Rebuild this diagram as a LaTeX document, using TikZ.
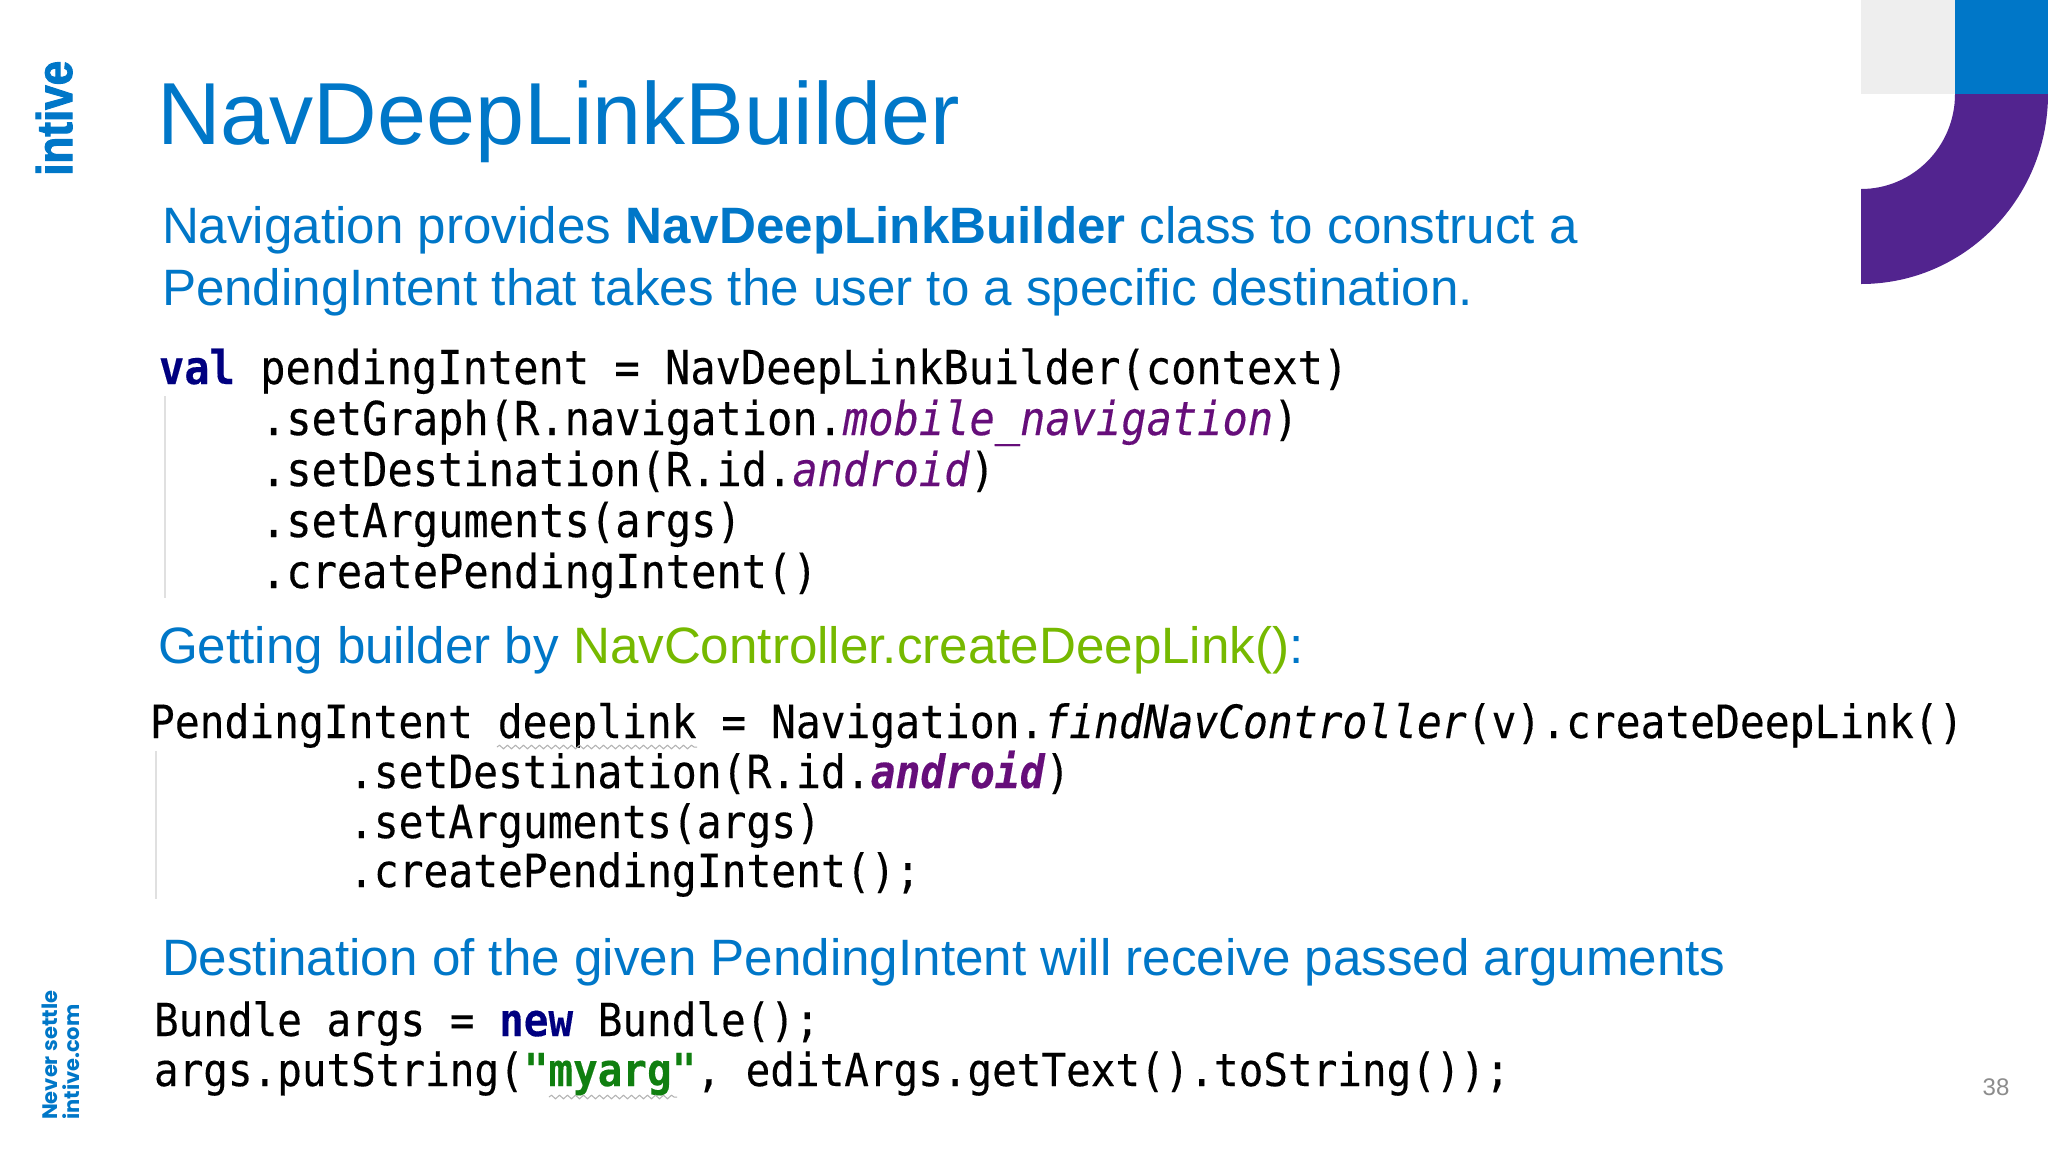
\documentclass[tikz,border=0pt]{standalone}
\usepackage{fontspec}
\setmainfont{Liberation Sans}
\setmonofont[FakeStretch=0.9,FakeBold=0.25]{DejaVu Sans Mono}
\newfontfamily\popfont{Poppins}
\newfontfamily\logofont[FakeStretch=0.88,FakeBold=2]{Liberation Sans Bold}
\usetikzlibrary{decorations.pathmorphing}
\definecolor{ibl}{HTML}{0077C8}
\definecolor{ipu}{HTML}{52248F}
\definecolor{igy}{HTML}{EEEEEE}
\definecolor{igr}{HTML}{76B900}
\definecolor{cnavy}{HTML}{000080}
\definecolor{cpur}{HTML}{660E7A}
\definecolor{cgrn}{HTML}{107F10}
\newcommand{\fs}[1]{\fontsize{#1pt}{#1pt}\selectfont}
\tikzset{
  txt/.style={anchor=base west,inner sep=0pt,outer sep=0pt,text=ibl},
  codeA/.style={anchor=base west,inner sep=0pt,outer sep=0pt,text=black,font=\ttfamily\fs{46.7}},
  codeB/.style={anchor=base west,inner sep=0pt,outer sep=0pt,text=black,font=\ttfamily\fs{45.85}},
  codeC/.style={anchor=base west,inner sep=0pt,outer sep=0pt,text=black,font=\ttfamily\fs{45.5}},
  gutter/.style={draw=black!12,line width=1.2pt},
  squig/.style={line width=1pt,decorate,decoration={snake,amplitude=1.8pt,segment length=8pt}},
}
\begin{document}
\begin{tikzpicture}[x=1pt,y=-1pt]
\useasboundingbox (0,0) rectangle (2048,1152);
\fill[white] (0,0) rectangle (2048,1152);
% corner shapes
\fill[igy] (1861,0) rectangle (1955,94);
\fill[ibl] (1955,0) rectangle (2048,94);
\fill[ipu] (1955,94) -- (2048,94) arc[start angle=0,end angle=-90,x radius=187,y radius=-190]
  -- (1861,189) arc[start angle=-90,end angle=0,x radius=94,y radius=-95] -- cycle;
% side texts
\node[inner sep=0pt,anchor=base west,rotate=90,text=ibl,font=\logofont\fs{50}] (logo) at (72,176) {intive};
\node[inner sep=0pt,anchor=base west,rotate=90,text=ibl,font=\popfont\bfseries\fs{21}] (never) at (57,1120) {Never settle};
\node[inner sep=0pt,anchor=base west,rotate=90,text=ibl,font=\popfont\bfseries\fs{21}] (web) at (79,1120) {intive.com};
% title and texts
\node[txt,font=\fs{88.1}] (title) at (157,144) {NavDeepLinkBuilder};
\node[txt,font=\fs{51.15}] (l1) at (162,243) {Navigation provides \textbf{NavDeepLinkBuilder} class to construct a};
\node[txt,font=\fs{51.15}] (l2) at (162,305) {PendingIntent that takes the user to a specific destination.};
\node[txt,font=\fs{51.15}] (l3) at (158,663) {Getting builder by \textcolor{igr}{NavController.createDeepLink()}:};
\node[txt,font=\fs{51.15}] (l4) at (162,975) {Destination of the given PendingIntent will receive passed arguments};
% code block A
\node[codeA] (a1) at (159,384) {\textcolor{cnavy}{\textbf{val}} pendingIntent = NavDeepLinkBuilder(context)};
\node[codeA] (a2) at (261,435) {.setGraph(R.navigation.\textcolor{cpur}{\textit{mobile\_navigation}})};
\node[codeA] (a3) at (261,486) {.setDestination(R.id.\textcolor{cpur}{\textit{android}})};
\node[codeA] (a4) at (261,537) {.setArguments(args)};
\node[codeA] (a5) at (261,588) {.createPendingIntent()};
\draw[gutter] (165,396) -- (165,598);
% code block B
\node[codeB] (b1) at (150,738) {PendingIntent deeplink = Navigation.\textit{findNavController}(v).createDeepLink()};
\node[codeB] (b2) at (349,788) {.setDestination(R.id.\textcolor{cpur}{\textbf{\textit{android}}})};
\node[codeB] (b3) at (349,838) {.setArguments(args)};
\node[codeB] (b4) at (349,887) {.createPendingIntent();};
\draw[gutter] (156,751) -- (156,899);
\draw[squig,draw=black!30] (497,747) -- (697,747);
% code block C
\node[codeC] (c1) at (154,1036) {Bundle args = \textcolor{cnavy}{\textbf{new}} Bundle();};
\node[codeC] (c2) at (154,1086) {args.putString(\textcolor{cgrn}{\textbf{"myarg"}}, editArgs.getText().toString());};
\draw[squig,draw=black!30] (549,1097) -- (677,1097);
% page number
\node[inner sep=0pt,anchor=base,text=black!45,font=\fs{24}] (page) at (1996,1095) {38};
\end{tikzpicture}
\end{document}
